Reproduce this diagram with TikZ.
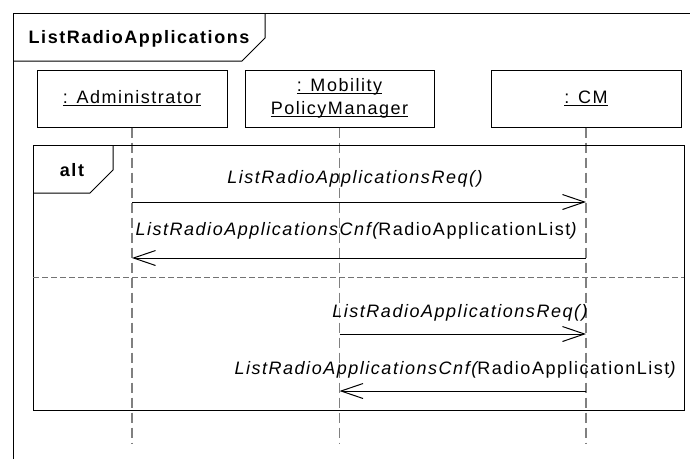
\documentclass[tikz,border=0pt]{standalone}
\usepackage{fontspec}
\setmainfont{Liberation Sans}[LetterSpace=8.5]
\usetikzlibrary{arrows.meta}
% underline set a little below the baseline
\newcommand\ulined[1]{\setbox0\hbox{#1}\rlap{\rule[-2.5pt]{\wd0}{0.9pt}}\box0}
\tikzset{
  frameline/.style={draw=black, line width=1pt},
  objbox/.style={draw=black, line width=1pt, fill=white, minimum width=190pt,
    minimum height=57pt, inner sep=0pt, align=center, font=\fontsize{18}{24}\selectfont},
  lifeline/.style={draw=black!50, line width=1.4pt, dash pattern=on 10pt off 5pt},
  divider/.style={draw=black!55, line width=1pt, dash pattern=on 6pt off 3pt},
  msg/.style={draw=black, line width=1pt, -{Straight Barb[length=22pt,width=15pt,line width=1pt]}},
  msglabel/.style={anchor=base, inner sep=0pt, font=\fontsize{18}{20}\selectfont\itshape},
  tabtext/.style={anchor=base, inner sep=0pt, font=\fontsize{18}{20}\selectfont\bfseries}
}
\begin{document}
\begin{tikzpicture}[x=1pt, y=-1pt]
  \useasboundingbox (0,0) rectangle (690,459);
  \fill[white] (0,0) rectangle (690,459);

  % outer diagram frame with its name tab
  \draw[frameline] (13,459) -- (13,13) -- (690,13);
  \draw[frameline] (13,61) -- (242,61) -- (265,38) -- (265,13);
  \node[tabtext] (title) at (139,43) {ListRadioApplications};

  % participants
  \node[objbox] (adm) at (132,98.5) {\ulined{: Administrator}};
  \node[objbox, minimum width=189pt] (mpm) at (339.5,98.5)
    {\ulined{: Mobility}\\[-1pt]\ulined{PolicyManager}};
  \node[objbox] (cm) at (586,98.5) {\ulined{: CM}};

  % lifeline ends
  \coordinate (end) at (0,443);
  \draw[lifeline] (adm.south) -- (adm.south |- end);
  \draw[lifeline] (mpm.south) -- (mpm.south |- end);
  \draw[lifeline] (cm.south) -- (cm.south |- end);

  % alt combined fragment
  \draw[frameline] (33,145) rectangle (684,410);
  \draw[frameline] (33,193) -- (90,193) -- (113,170) -- (113,145);
  \node[tabtext] (alt) at (72,176) {alt};
  \draw[divider] (33,277) -- (684,277);

  % message heights
  \coordinate (y1) at (0,202);
  \coordinate (y2) at (0,258);
  \coordinate (y3) at (0,334);
  \coordinate (y4) at (0,391);

  % first operand
  \draw[msg] (adm.south |- y1) -- (cm.south |- y1);
  \node[msglabel] (l1) at (355,183) {ListRadioApplicationsReq()};
  \draw[msg] (cm.south |- y2) -- (adm.south |- y2);
  \node[msglabel] (l2) at (356,235) {ListRadioApplicationsCnf(\upshape RadioApplicationList\itshape )};

  % second operand
  \draw[msg] (mpm.south |- y3) -- (cm.south |- y3);
  \node[msglabel] (l3) at (460,317) {ListRadioApplicationsReq()};
  \draw[msg] (cm.south |- y4) -- (mpm.south |- y4);
  \node[msglabel] (l4) at (455,374) {ListRadioApplicationsCnf(\upshape RadioApplicationList\itshape )};
\end{tikzpicture}
\end{document}
